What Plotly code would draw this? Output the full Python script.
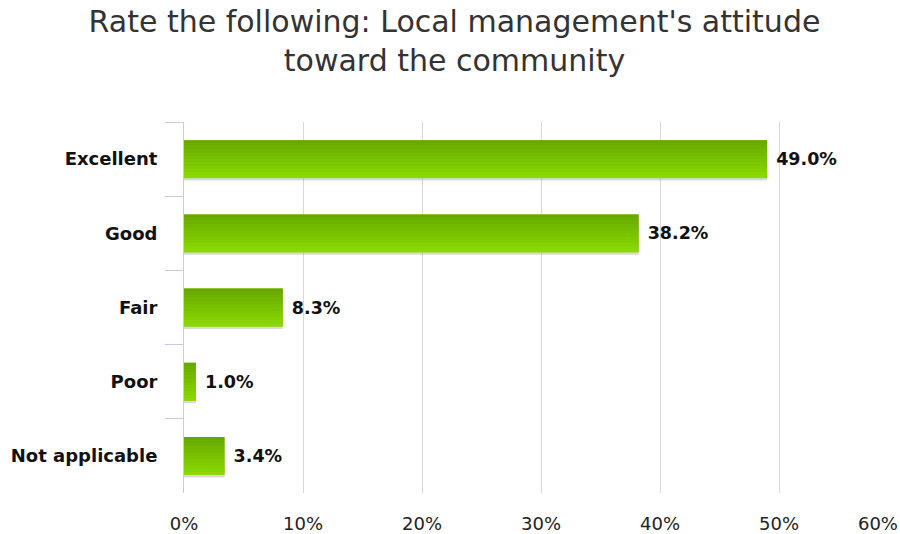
import plotly.graph_objects as go

categories = ["Excellent", "Good", "Fair", "Poor", "Not applicable"]
values = [49.0, 38.2, 8.3, 1.0, 3.4]
labels = ["49.0%", "38.2%", "8.3%", "1.0%", "3.4%"]
x_ticks = [0, 10, 20, 30, 40, 50, 60]
x_tick_labels = ["0%", "10%", "20%", "30%", "40%", "50%", "60%"]

FONT = "DejaVu Sans"
BAR_W = 0.51
NBSP = "\u00a0"

# last tick label is pulled inside the chart edge, as in the reference
tick_text = list(x_tick_labels)
tick_text[-1] = tick_text[-1] + NBSP * 7

fig = go.Figure()

# soft shadow
fig.add_trace(go.Bar(
    y=categories, x=values, orientation="h", width=BAR_W, offset=-BAR_W / 2 + 0.035,
    marker=dict(color="rgba(150,150,150,0.35)", line=dict(width=0)),
    hoverinfo="skip", showlegend=False,
))

# base bar with labels
fig.add_trace(go.Bar(
    y=categories, x=values, orientation="h", width=BAR_W, offset=-BAR_W / 2,
    marker=dict(color="#79bf00", line=dict(width=0)),
    text=[NBSP + t for t in labels], textposition="outside", cliponaxis=False,
    textfont=dict(family=FONT, size=17.5, color="#111111", weight="bold"),
    showlegend=False,
))

# gradient strips (dark at top, light at bottom)
N = 12
top = (0x68, 0xa8, 0x00)
bot = (0x8a, 0xda, 0x02)
for i in range(N):
    t = i / (N - 1)
    c = tuple(int(round(top[k] + (bot[k] - top[k]) * t)) for k in range(3))
    fig.add_trace(go.Bar(
        y=categories, x=values, orientation="h",
        width=BAR_W / N + 0.002, offset=-BAR_W / 2 + i * BAR_W / N,
        marker=dict(color="rgb(%d,%d,%d)" % c, line=dict(width=0)),
        hoverinfo="skip", showlegend=False,
    ))

fig.update_layout(
    width=900, height=534,
    barmode="overlay",
    plot_bgcolor="white", paper_bgcolor="white",
    margin=dict(l=184, r=2, t=122, b=41, autoexpand=False),
    title=dict(
        text="Rate the following: Local management's attitude<br>toward the community",
        x=0.505, xanchor="center", y=0.94, yanchor="top",
        font=dict(family=FONT, size=30, color="#333333"),
    ),
    font=dict(family=FONT),
)

fig.update_xaxes(
    range=[0, 60], tickvals=x_ticks, ticktext=tick_text,
    showgrid=True, gridcolor="#d9d9d9", gridwidth=1,
    zeroline=False, showline=False, ticks="",
    tickfont=dict(family=FONT, size=18, color="#222222"),
    ticklabelstandoff=18, automargin=False, ticklabeloverflow="allow",
)
fig.update_yaxes(
    categoryorder="array", categoryarray=categories, autorange="reversed",
    showline=True, linecolor="#c0d0e0", linewidth=1,
    ticks="outside", tickson="boundaries", ticklen=18, tickcolor="#c0d0e0",
    tickfont=dict(family=FONT, size=18, color="#111111", weight="bold"),
    ticklabelstandoff=22, automargin=False,
    showgrid=False, zeroline=False,
)

fig.write_html(
    "out.html",
    config={"displayModeBar": False},
    post_script="document.body.style.margin='0';",
)
